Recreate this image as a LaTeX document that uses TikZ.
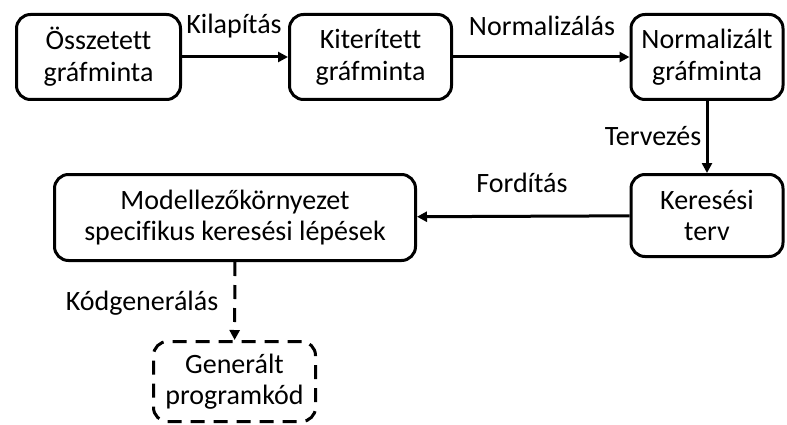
\documentclass[tikz,border=0pt]{standalone}
\usepackage{fontspec}
\setmainfont{Carlito}[Ligatures=NoCommon]
\usetikzlibrary{arrows.meta}
\begin{document}
\begin{tikzpicture}[x=1pt,y=-1pt,
  box/.style={draw,line width=3pt,rounded corners=14pt,align=center,inner sep=0pt,
    font=\fontsize{28}{31}\selectfont},
  wide/.style={font=\fontsize{28}{32}\selectfont},
  lbl/.style={anchor=base,inner sep=0pt,font=\fontsize{28}{31}\selectfont},
  flow/.style={line width=3pt,-{Triangle[length=10pt,width=10pt]}},
  dashline/.style={dash pattern=on 14pt off 9pt}]
\useasboundingbox (0,0) rectangle (787,425);
% process steps
\node[box,wide,minimum width=164pt,minimum height=85pt] (osz) at (98.5,57) {Összetett\\gráfminta};
\node[box,wide,minimum width=162pt,minimum height=85pt] (kit) at (370.5,57) {Kiterített\\gráfminta};
\node[box,wide,minimum width=152pt,minimum height=85pt] (norm) at (707,57) {Normalizált\\gráfminta};
\node[box,minimum width=152pt,minimum height=82pt] (ker) at (707,215.5) {Keresési\\terv};
\node[box,minimum width=361pt,minimum height=86pt] (mod) at (235,217.5) {Modellezőkörnyezet\\specifikus keresési lépések};
\node[box,dashline,minimum width=162pt,minimum height=80pt] (gen) at (234.5,381.5) {Generált\\programkód};
% transitions
\draw[flow] (osz) -- (kit);
\draw[flow] (kit) -- (norm);
\draw[flow] (norm) -- (ker);
\draw[flow] (ker) -- (mod);
\draw[flow,dashline] (mod) -- (gen);
% transition labels
\node[lbl] (l1) at (234,34) {Kilapítás};
\node[lbl] (l2) at (542,36) {Normalizálás};
\node[lbl] (l3) at (653,146) {Tervezés};
\node[lbl] (l4) at (522,193) {Fordítás};
\node[lbl] (l5) at (142,310) {Kódgenerálás};
\end{tikzpicture}
\end{document}
